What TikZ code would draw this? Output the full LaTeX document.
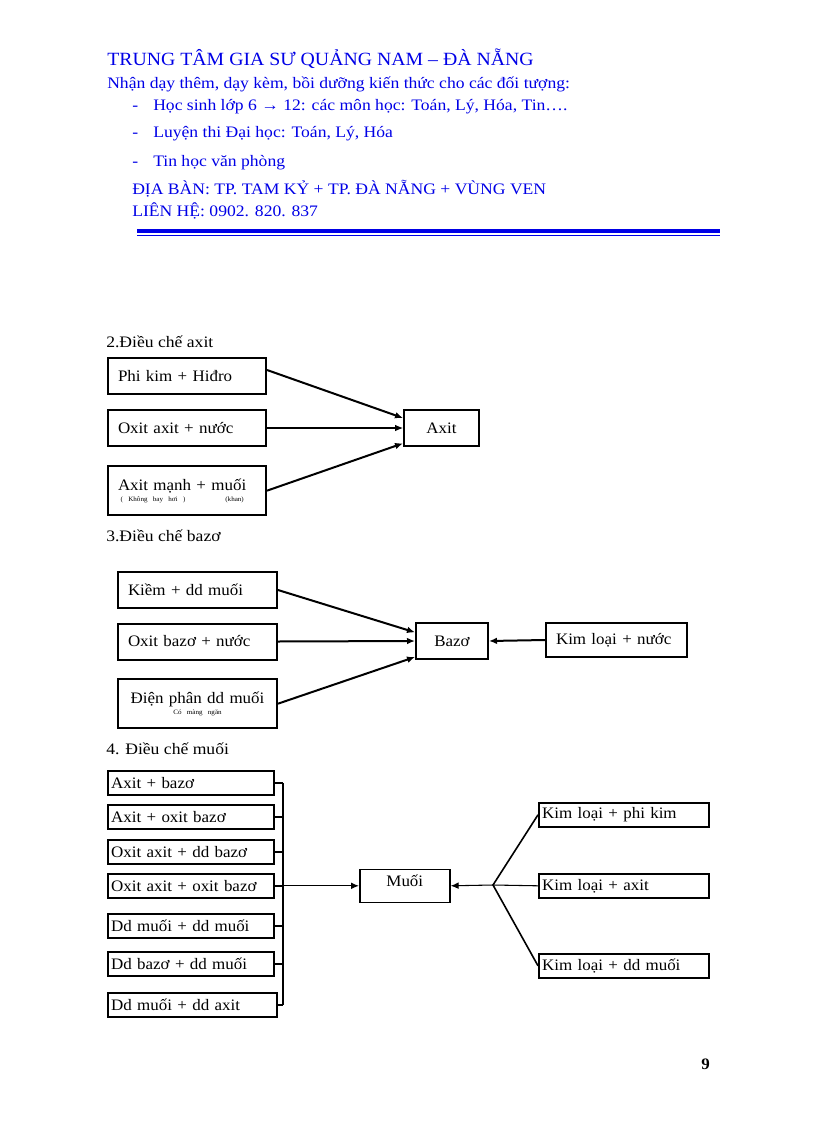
\documentclass[tikz,border=0pt]{standalone}
\usepackage{fontspec}
\setmainfont{Liberation Serif}
\newfontfamily\rong{Liberation Serif}[FakeStretch=1.1]
\newfontfamily\rongvua{Liberation Serif}[FakeStretch=1.06]
\usetikzlibrary{arrows.meta,positioning}
\definecolor{xanhdam}{RGB}{0,0,230}
\newcommand{\chu}{\rongvua\fontsize{12}{14}\selectfont}
\newcommand{\chuto}{\rong\fontsize{12}{14}\selectfont}
\newcommand{\chunho}{\fontsize{5}{6}\selectfont}

\begin{document}
\begin{tikzpicture}[x=0.75pt,y=-0.75pt,
	every node/.style={font=\chu},
	dong/.style={anchor=base west, inner sep=0pt, font=\chuto},
	tieude/.style={dong, text=xanhdam},
	hop/.style={draw, line width=1.5pt, anchor=north west, inner ysep=0pt, inner xsep=7.5pt, align=left, text width=104pt, minimum height=27pt},
	hopgiua/.style={draw, line width=1.5pt, anchor=north west, inner sep=0pt, align=center},
	hopnho/.style={draw, line width=1.2pt, anchor=north west, inner ysep=0pt, inner xsep=2.5pt, align=left, text width=119.5pt, minimum height=18pt},
	muiten/.style={line width=1.5pt, -{Latex[length=6pt,width=5pt]}},
	muitenmanh/.style={line width=0.8pt, -{Latex[length=6pt,width=5pt]}},
	nhanh/.style={line width=1.2pt}]
	\useasboundingbox (0,0) rectangle (816,1123);
	% tieu de
	\node[tieude, font=\rongvua\fontsize{14}{16}\selectfont] (td1) at (107,66) {TRUNG TÂM GIA SƯ QUẢNG NAM – ĐÀ NẴNG};
	\node[tieude] (td2) at (107,89) {Nhận dạy thêm, dạy kèm, bồi dưỡng kiến thức cho các đối tượng:};
	\node[tieude] (g1) at (132,111) {-};
	\node[tieude] (hocsinh) at (153,111) {Học sinh lớp 6 → 12: các môn học: Toán, Lý, Hóa, Tin….};
	\node[tieude] (g2) at (132,138) {-};
	\node[tieude] (luyenthi) at (153,138) {Luyện thi Đại học: Toán, Lý, Hóa};
	\node[tieude] (g3) at (132,167) {-};
	\node[tieude] (tinhoc) at (153,167) {Tin học văn phòng};
	\node[tieude] (diaban) at (132,195) {ĐỊA BÀN: TP. TAM KỶ + TP. ĐÀ NẴNG + VÙNG VEN};
	\node[tieude] (lienhe) at (132,217) {LIÊN HỆ: 0902. 820. 837};
	\draw[xanhdam, line width=3pt] (137,231) -- (720,231);
	\draw[xanhdam, line width=0.75pt] (137,235.5) -- (720,235.5);
	% 2. axit
	\node[dong] (muc2) at (106,347) {2.Điều chế axit};
	\node[hop, text width=103.5pt] (phikim) at (107,357) {Phi kim + Hiđro};
	\node[hop, text width=103.5pt] (oxitaxit) at (107,409) {Oxit axit + nước};
	\node[hop, text width=103.5pt, minimum height=37pt] (axitmanh) at (107,465) {Axit mạnh + muối\\[-6pt]{\chunho\hspace*{2pt}( Không bay hơi~)\hspace{30pt}(khan)}};
	\node[hopgiua, minimum width=56.25pt, minimum height=27pt] (axit) at (403,409) {Axit};
	\draw[muiten] ([yshift=4.5pt]phikim.east) -- ([yshift=7.5pt]axit.west);
	\draw[muitenmanh] (oxitaxit.east) -- (axit.west);
	\draw[muiten] (axitmanh.east) -- ([yshift=-11.5pt]axit.west);
	% 3. bazo
	\node[dong] (muc3) at (106,541) {3.Điều chế bazơ};
	\node[hop, text width=104.25pt] (kiem) at (117,571) {Kiềm + dd muối};
	\node[hop, text width=104.25pt] (oxitbazo) at (117,622.5) {Oxit bazơ + nước};
	\node[hop, text width=104.25pt, minimum height=37pt, align=center] (dienphan) at (117,678) {Điện phân dd muối\\[-6pt]{\chunho Có màng ngăn}};
	\node[hopgiua, minimum width=54pt, minimum height=27pt] (bazo) at (415,622) {Bazơ};
	\node[hop, text width=90.75pt, minimum height=25.5pt] (kimloainuoc) at (545,622) {Kim loại + nước};
	\draw[muiten] (kiem.east) -- ([yshift=6.5pt]bazo.west);
	\draw[muiten] (oxitbazo.east) -- (bazo.west);
	\draw[muiten] (dienphan.east) -- ([yshift=-12pt]bazo.west);
	\draw[muiten] (kimloainuoc.west) -- (bazo.east);
	% 4. muoi
	\node[dong] (muc4) at (106,754) {4. Điều chế muối};
	\node[hopnho] (o1) at (107,770) {Axit + bazơ};
	\node[hopnho] (o2) at (107,804) {Axit + oxit bazơ};
	\node[hopnho] (o3) at (107,839) {Oxit axit + dd bazơ};
	\node[hopnho] (o4) at (107,873) {Oxit axit + oxit bazơ};
	\node[hopnho] (o5) at (107,913) {Dd muối + dd muối};
	\node[hopnho] (o6) at (107,951) {Dd bazơ + dd muối};
	\node[hopnho, text width=121.75pt] (o7) at (107,992) {Dd muối + dd axit};
	\coordinate (gop) at (283,885);
	\draw[nhanh] (o1.east -| gop) -- (o7.east -| gop);
	\foreach \i in {1,...,7} \draw[nhanh] (o\i.east) -- (o\i.east -| gop);
	\node[hopgiua, line width=1.2pt, minimum width=67.5pt, minimum height=24.75pt, text depth=8pt] (muoi) at (359,868.5) {Muối};
	\draw[muitenmanh] (o4.east) -- (muoi.west);
	\node[hopnho, text width=122.5pt] (k1) at (538,802) {Kim loại + phi kim};
	\node[hopnho, text width=122.5pt] (k2) at (538,873) {Kim loại + axit};
	\node[hopnho, text width=122.5pt] (k3) at (538,953) {Kim loại + dd muối};
	\coordinate (re) at (493,885);
	\draw[muitenmanh] (re) -- (muoi.east);
	\draw[nhanh] (k1.west) -- (re) -- (k3.west);
	\draw[muitenmanh, -] (re) -- (k2.west);
	\node[dong, font=\chu\bfseries] (trang) at (701,1069) {9};
\end{tikzpicture}
\end{document}
